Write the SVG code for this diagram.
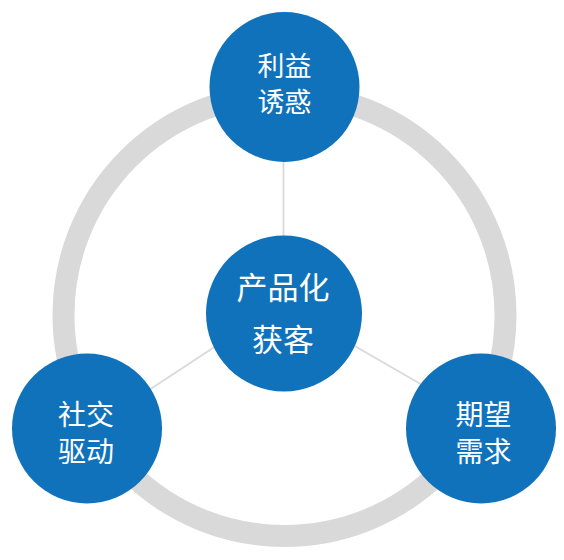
<svg xmlns="http://www.w3.org/2000/svg" width="564" height="560" viewBox="0 0 564 560">
<style>
.node{fill:#1172BC}
.t{fill:#ffffff;font-family:"Noto Sans CJK SC","Noto Sans",sans-serif;text-anchor:middle}
.c{stroke:#D9D9D9;stroke-width:1.8;fill:none}
</style>
<rect width="564" height="560" fill="#ffffff"/>
<circle cx="284.5" cy="315" r="221" fill="none" stroke="#D9D9D9" stroke-width="22"/>
<g id="connectors">
<line class="c" x1="283.5" y1="160" x2="283.5" y2="237"/>
<line class="c" x1="146" y1="392" x2="219" y2="344"/>
<line class="c" x1="353" y1="345" x2="424" y2="386"/>
</g>
<g id="top">
<circle class="node" cx="284.5" cy="87" r="75"/>
<text class="t" x="284.5" y="76" font-size="27">利益</text>
<text class="t" x="284.5" y="112" font-size="27">诱惑</text>
</g>
<g id="center">
<circle class="node" cx="284" cy="313.5" r="78"/>
<text class="t" x="283" y="298.5" font-size="31">产品化</text>
<text class="t" x="283" y="350.5" font-size="31">获客</text>
</g>
<g id="left">
<circle class="node" cx="87" cy="428.5" r="75"/>
<text class="t" x="86" y="424.5" font-size="28">社交</text>
<text class="t" x="86" y="461.5" font-size="28">驱动</text>
</g>
<g id="right">
<circle class="node" cx="481" cy="428.5" r="75"/>
<text class="t" x="483.5" y="424.5" font-size="28">期望</text>
<text class="t" x="483.5" y="461.5" font-size="28">需求</text>
</g>
</svg>
